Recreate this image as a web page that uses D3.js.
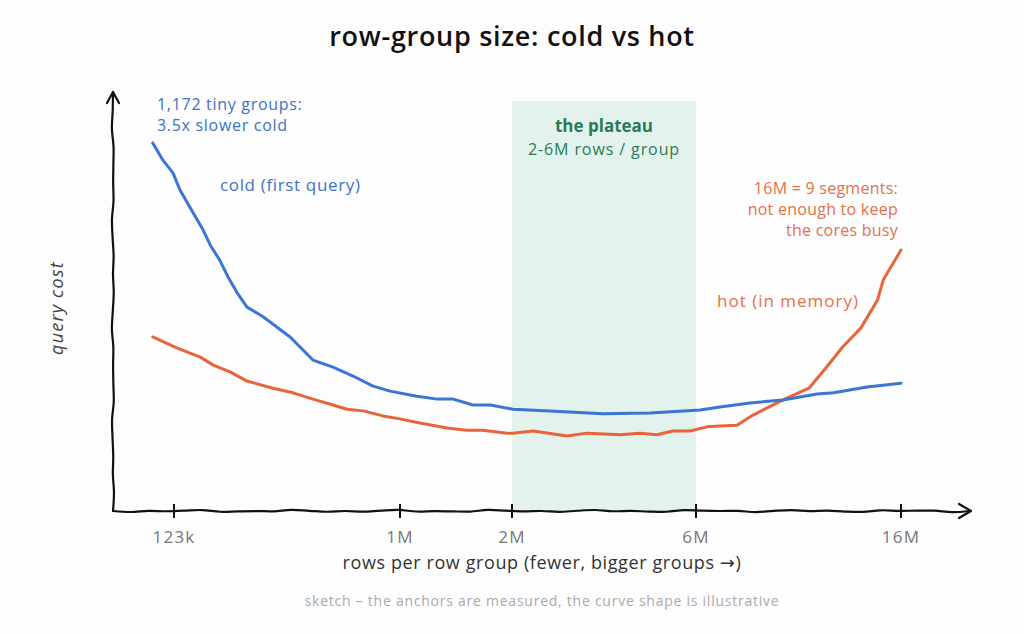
<!DOCTYPE html>
<html>
<head>
<meta charset="utf-8">
<script src="https://cdn.jsdelivr.net/npm/d3@7"></script>
<style>
  html, body { margin: 0; padding: 0; background: #fdfdfd; }
  svg { display: block; font-family: "Open Sans", "DejaVu Sans", sans-serif; }
</style>
</head>
<body>
<svg id="chart" width="1024" height="634"></svg>
<script>
// ---- data (rows per row group, relative query cost) ----
const tickValues = [123e3, 1e6, 2e6, 6e6, 16e6];
const tickLabels = ["123k", "1M", "2M", "6M", "16M"];

const coldRows = [101e3, 111e3, 122e3, 130e3, 147e3, 161e3, 172e3, 188e3, 203e3, 221e3, 242e3, 281e3, 361e3, 446e3, 537e3, 647e3, 779e3, 912e3, 1.11e6, 1.26e6, 1.39e6, 1.57e6, 1.75e6, 2.01e6, 2.51e6, 3.44e6, 4.56e6, 6.12e6, 6.73e6, 7.77e6, 9.1e6, 10.7e6, 11.6e6, 13.6e6, 16e6];
const coldCost = [87.4, 83.3, 80.2, 76.2, 70.7, 66.7, 63.1, 59.5, 55.5, 51.7, 48.3, 46.0, 41.2, 35.7, 34.0, 31.9, 29.5, 28.3, 27.1, 26.4, 26.4, 25.0, 25.0, 24.0, 23.6, 22.9, 23.1, 23.8, 24.5, 25.5, 26.2, 27.6, 27.9, 29.3, 30.2];

const hotRows = [101e3, 126e3, 157e3, 177e3, 207e3, 242e3, 308e3, 371e3, 446e3, 537e3, 612e3, 710e3, 854e3, 1.0e6, 1.13e6, 1.34e6, 1.51e6, 1.67e6, 1.94e6, 2.01e6, 2.27e6, 2.78e6, 3.13e6, 3.81e6, 4.3e6, 4.75e6, 5.23e6, 5.79e6, 6.32e6, 6.73e6, 7.3e6, 7.88e6, 9.1e6, 10.3e6, 11.2e6, 12.1e6, 13.2e6, 14.3e6, 14.7e6, 16e6];
const hotCost = [41.2, 38.6, 36.4, 34.5, 32.9, 30.7, 29.0, 27.9, 26.4, 25.0, 24.0, 23.6, 22.4, 21.7, 20.7, 19.5, 19.0, 19.0, 18.3, 18.3, 18.8, 17.6, 18.3, 17.9, 18.3, 17.9, 18.8, 18.8, 19.8, 20.0, 20.2, 22.6, 26.2, 29.0, 34.0, 38.8, 43.3, 50.0, 54.8, 61.9];

const plateau = [2e6, 6e6];

const titleText = "row-group size: cold vs hot";
const xLabel = "rows per row group (fewer, bigger groups \u2192)";
const yLabel = "query cost";
const footnote = "sketch \u2013 the anchors are measured, the curve shape is illustrative";
const coldNote = ["1,172 tiny groups:", "3.5x slower cold"];
const coldLabel = "cold (first query)";
const hotNote = ["16M = 9 segments:", "not enough to keep", "the cores busy"];
const hotLabel = "hot (in memory)";
const plateauNote = ["the plateau", "2-6M rows / group"];

// ---- styling ----
const C = {
  cold: "#3a76d2", coldText: "#3f72c6",
  hot: "#e8643a", hotText: "#e2724a",
  band: "#e3f2ec", green: "#2b7a57",
  axis: "#111", tick: "#777"
};

const svg = d3.select("#chart");
const axisX0 = 113, axisY0 = 511;

// piecewise log scale for the hand-placed anchors
const x = d3.scaleLog().domain(tickValues).range([174, 400, 512, 696, 901]);
const y = d3.scaleLinear().domain([0, 100]).range([510, 90]);

// plateau band
svg.append("rect")
  .attr("x", x(plateau[0])).attr("y", 101)
  .attr("width", x(plateau[1]) - x(plateau[0]))
  .attr("height", axisY0 - 101)
  .attr("fill", C.band);

// wobbly hand-drawn axis helper
function wobbly(x1, y1, x2, y2, amp) {
  const pts = [];
  const len = Math.hypot(x2 - x1, y2 - y1);
  const n = Math.max(2, Math.round(len / 18));
  const nx = -(y2 - y1) / len, ny = (x2 - x1) / len;
  for (let i = 0; i <= n; i++) {
    const t = i / n;
    const w = (i === 0 || i === n) ? 0 : amp * Math.sin(i * 1.7) * Math.cos(i * 0.6);
    pts.push([x1 + (x2 - x1) * t + nx * w, y1 + (y2 - y1) * t + ny * w]);
  }
  return d3.line().curve(d3.curveCatmullRom)(pts);
}

const axisG = svg.append("g").attr("fill", "none").attr("stroke", C.axis)
  .attr("stroke-width", 2.2).attr("stroke-linecap", "round").attr("stroke-linejoin", "round");
// y axis
axisG.append("path").attr("d", wobbly(axisX0, axisY0, axisX0, 92, 1.2));
axisG.append("path").attr("d", `M${axisX0 - 6},${103} L${axisX0},${92} L${axisX0 + 6},${103}`);
// x axis
axisG.append("path").attr("d", wobbly(axisX0, axisY0, 970, axisY0, 1.2));
axisG.append("path").attr("d", `M${959},${504} L${971},${511} L${959},${518}`);

// ticks
const tickG = svg.append("g");
tickValues.forEach((v, i) => {
  tickG.append("line")
    .attr("x1", x(v)).attr("x2", x(v))
    .attr("y1", axisY0 - 7).attr("y2", axisY0 + 7)
    .attr("stroke", C.axis).attr("stroke-width", 2);
  tickG.append("text")
    .attr("x", x(v)).attr("y", 543)
    .attr("text-anchor", "middle")
    .attr("font-size", 17).attr("letter-spacing", 1.2).attr("fill", C.tick)
    .text(tickLabels[i]);
});

// series lines
const line = d3.line().x(d => x(d[0])).y(d => y(d[1])).curve(d3.curveLinear);
svg.append("path")
  .datum(d3.zip(hotRows, hotCost))
  .attr("d", line).attr("fill", "none")
  .attr("stroke", C.hot).attr("stroke-width", 3)
  .attr("stroke-linejoin", "round").attr("stroke-linecap", "round");
svg.append("path")
  .datum(d3.zip(coldRows, coldCost))
  .attr("d", line).attr("fill", "none")
  .attr("stroke", C.cold).attr("stroke-width", 3)
  .attr("stroke-linejoin", "round").attr("stroke-linecap", "round");

// title
svg.append("text")
  .attr("x", 512).attr("y", 46).attr("text-anchor", "middle")
  .attr("font-size", 27).attr("letter-spacing", 0.7).attr("font-weight", 600).attr("fill", "#111")
  .text(titleText);

// axis labels
svg.append("text")
  .attr("x", 542).attr("y", 569).attr("text-anchor", "middle")
  .attr("font-size", 18).attr("letter-spacing", 0.6).attr("fill", "#333")
  .text(xLabel);
svg.append("text")
  .attr("transform", "translate(63,308) rotate(-90)")
  .attr("text-anchor", "middle")
  .attr("font-size", 18).attr("letter-spacing", 1.2).attr("font-style", "italic").attr("fill", "#444")
  .text(yLabel);
svg.append("text")
  .attr("x", 542).attr("y", 606).attr("text-anchor", "middle")
  .attr("font-size", 14).attr("letter-spacing", 0.75).attr("fill", "#aaa")
  .text(footnote);

// annotations
coldNote.forEach((t, i) => {
  svg.append("text").attr("x", 157).attr("y", 110 + i * 21)
    .attr("font-size", 16).attr("letter-spacing", 0.7).attr("fill", C.coldText).text(t);
});
svg.append("text").attr("x", 220).attr("y", 191)
  .attr("font-size", 17).attr("letter-spacing", 0.65).attr("fill", C.coldText).text(coldLabel);

hotNote.forEach((t, i) => {
  svg.append("text").attr("x", 898).attr("y", 194 + i * 21)
    .attr("text-anchor", "end")
    .attr("font-size", 16).attr("letter-spacing", 0.25).attr("fill", C.hotText).text(t);
});
svg.append("text").attr("x", 717).attr("y", 307)
  .attr("font-size", 17).attr("letter-spacing", 1).attr("fill", C.hotText).text(hotLabel);

const bandMid = (x(plateau[0]) + x(plateau[1])) / 2;
svg.append("text").attr("x", bandMid).attr("y", 132).attr("text-anchor", "middle")
  .attr("font-size", 17).attr("font-weight", 700).attr("fill", C.green).text(plateauNote[0]);
svg.append("text").attr("x", bandMid).attr("y", 155).attr("text-anchor", "middle")
  .attr("font-size", 16).attr("letter-spacing", 0.9).attr("fill", C.green).text(plateauNote[1]);
</script>
</body>
</html>
